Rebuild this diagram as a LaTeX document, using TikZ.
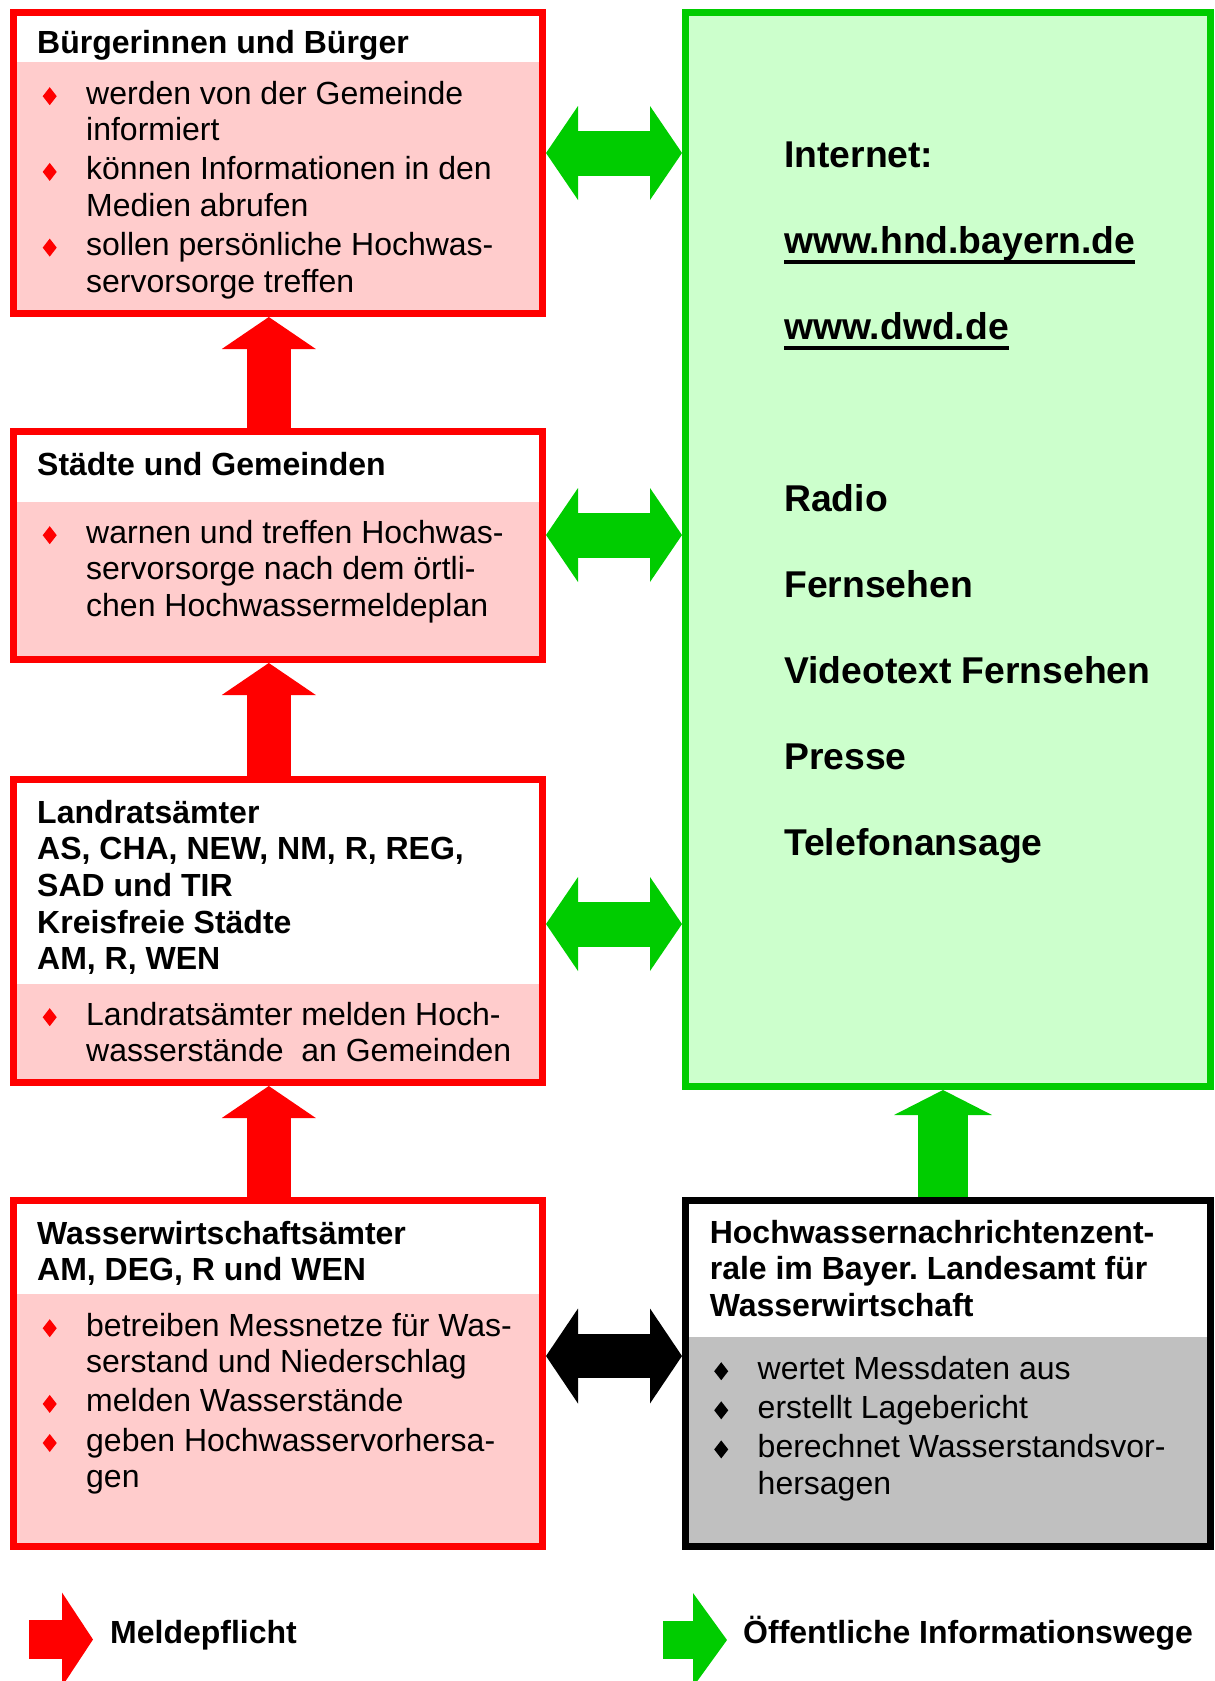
\documentclass[tikz,border=0pt]{standalone}
\usepackage{fontspec}
\setmainfont{Liberation Sans}
\usepackage{graphicx}
\usepackage{tikz}
\usetikzlibrary{arrows.meta,positioning}
\frenchspacing

\definecolor{meldered}{RGB}{255,0,0}
\definecolor{meldepink}{RGB}{255,204,204}
\definecolor{infogreen}{RGB}{0,204,0}
\definecolor{infomint}{RGB}{204,255,204}
\definecolor{hnzgray}{RGB}{192,192,192}

\newcommand\rhomb[1][meldered]{\makebox[43.5pt][l]{\raisebox{-1pt}{\textcolor{#1}{\scalebox{0.78}[1]{\rotatebox{45}{\rule{12.73pt}{12.73pt}}}}}}}
\newcommand\contline{\hspace*{43.5pt}}
\newcommand\weblink[1]{\setbox0=\hbox{#1}\rlap{\rule[-10pt]{\wd0}{3.5pt}}\box0}

\begin{document}
\begin{tikzpicture}[
  x=1pt, y=-1pt,
  redbox/.style={draw=meldered, line width=7pt, fill=meldepink, anchor=north west, inner sep=0pt, minimum width=529pt},
  greenbox/.style={draw=infogreen, line width=7pt, fill=infomint, anchor=north west, inner sep=0pt, minimum width=525pt},
  graybox/.style={draw=black, line width=7pt, fill=hnzgray, anchor=north west, inner sep=0pt, minimum width=525pt},
  band/.style={fill=white},
  block/.style={anchor=north west, yshift=25.62pt, inner sep=0pt, align=left, font=\fontsize{32}{36.6}\selectfont},
  headblock/.style={block, font=\fontsize{32}{36.6}\selectfont\bfseries},
  media/.style={anchor=north west, yshift=60.2pt, inner sep=0pt, align=left, font=\fontsize{37.3}{86}\selectfont\bfseries},
  keylabel/.style={inner sep=0pt, text height=25pt, text depth=18pt, font=\fontsize{32}{36}\selectfont\bfseries},
  redup/.style={draw=meldered, line width=44pt, -{Triangle[length=32pt, width=94pt, line width=0pt]}},
  infoup/.style={draw=infogreen, line width=50pt, -{Triangle[length=25pt, width=98pt, line width=0pt]}},
  infoboth/.style={draw=infogreen, line width=45pt, {Triangle[length=32pt, width=94pt, line width=0pt]}-{Triangle[length=32pt, width=94pt, line width=0pt]}},
  linkboth/.style={draw=black, line width=44pt, {Triangle[length=32pt, width=95pt, line width=0pt]}-{Triangle[length=32pt, width=95pt, line width=0pt]}},
  redkey/.style={draw=meldered, line width=39pt, -{Triangle[length=31pt, width=94pt, line width=0pt]}},
  greenkey/.style={draw=infogreen, line width=38pt, -{Triangle[length=34pt, width=94pt, line width=0pt]}}
]
\useasboundingbox (0,0) rectangle (1215,1681);

% left column
\node[redbox, minimum height=301pt] (buerger) at (10,9) {};
\node[redbox, minimum height=228pt] (staedte) at (10,428) {};
\node[redbox, minimum height=303pt] (landrat) at (10,776) {};
\node[redbox, minimum height=346pt] (wwa) at (10,1197) {};
% right column
\node[greenbox, minimum height=1074pt] (medien) at (682,9) {};
\node[graybox, minimum height=346pt] (hnz) at (682,1197) {};

% white title bands
\fill[band] (17,16) rectangle (539,62);
\fill[band] (17,435) rectangle (539,502);
\fill[band] (17,783) rectangle (539,984);
\fill[band] (17,1204) rectangle (539,1294);
\fill[band] (689,1204) rectangle (1207,1337);

\node[headblock] (buergerhead) at (37,53) {\strut Bürgerinnen und Bürger};
\node[block] (buergerlist) at (42.5,104) {\strut\rhomb werden von der Gemeinde\\
  \contline informiert\\[2.5pt]
  \rhomb können Informationen in den\\
  \contline Medien abrufen\\[2.5pt]
  \rhomb sollen persönliche Hochwas-\\
  \contline servorsorge treffen};

\node[headblock] (staedtehead) at (37,475) {\strut Städte und Gemeinden};
\node[block] (staedtelist) at (42.5,543) {\strut\rhomb warnen und treffen Hochwas-\\
  \contline servorsorge nach dem örtli-\\
  \contline chen Hochwassermeldeplan};

\node[headblock] (landrathead) at (37,823) {\strut Landratsämter\\ AS, CHA, NEW, NM, R, REG,\\ SAD und TIR\\ Kreisfreie Städte\\ AM, R, WEN};
\node[block] (landratlist) at (42.5,1025) {\strut\rhomb Landratsämter melden Hoch-\\
  \contline wasserstände\ \ an Gemeinden};

\node[headblock] (wwahead) at (37,1244) {\strut Wasserwirtschaftsämter\\ AM, DEG, R und WEN};
\node[block] (wwalist) at (42.5,1336) {\strut\rhomb betreiben Messnetze für Was-\\
  \contline serstand und Niederschlag\\[2.5pt]
  \rhomb melden Wasserstände\\[2.5pt]
  \rhomb geben Hochwasservorhersa-\\
  \contline gen};

\node[headblock] (hnzhead) at (709.6,1243) {\strut Hochwassernachrichtenzent-\\ rale im Bayer. Landesamt für\\ Wasserwirtschaft};
\node[block] (hnzlist) at (714,1379) {\strut\rhomb[black]wertet Messdaten aus\\[2.5pt]
  \rhomb[black]erstellt Lagebericht\\[2.5pt]
  \rhomb[black]berechnet Wasserstandsvor-\\
  \contline hersagen};

\node[media] (medienlist) at (784,167.3) {\strut Internet:\\ \weblink{www.hnd.bayern.de}\\ \weblink{www.dwd.de}\\[86pt]
  Radio\\ Fernsehen\\ Videotext Fernsehen\\ Presse\\ Telefonansage};

% reporting arrows
\coordinate (redaxis) at (268.8,0);
\draw[redup] (redaxis |- staedte.north) -- (redaxis |- buerger.south);
\draw[redup] (redaxis |- landrat.north) -- (redaxis |- staedte.south);
\draw[redup] (redaxis |- wwa.north) -- (redaxis |- landrat.south);

\coordinate (greenaxis) at (943,0);
\draw[infoup] (greenaxis |- hnz.north) -- (greenaxis |- medien.south);

% information paths
\coordinate (row1) at (0,153);
\coordinate (row2) at (0,535);
\coordinate (row3) at (0,924);
\coordinate (row4) at (0,1356);
\draw[infoboth] (buerger.east |- row1) -- (medien.west |- row1);
\draw[infoboth] (staedte.east |- row2) -- (medien.west |- row2);
\draw[infoboth] (landrat.east |- row3) -- (medien.west |- row3);
\draw[linkboth] (wwa.east |- row4) -- (hnz.west |- row4);

% legend
\coordinate (redkeytail) at (29,1639.5);
\coordinate (redkeytip) at (93,1639.5);
\draw[redkey] (redkeytail) -- (redkeytip);
\node[keylabel, right=17pt of redkeytip] (meldekey) {Meldepflicht};
\coordinate (greenkeytail) at (663,1640);
\coordinate (greenkeytip) at (727,1640);
\draw[greenkey] (greenkeytail) -- (greenkeytip);
\node[keylabel, right=16pt of greenkeytip] (infokey) {Öffentliche Informationswege};
\end{tikzpicture}
\end{document}
